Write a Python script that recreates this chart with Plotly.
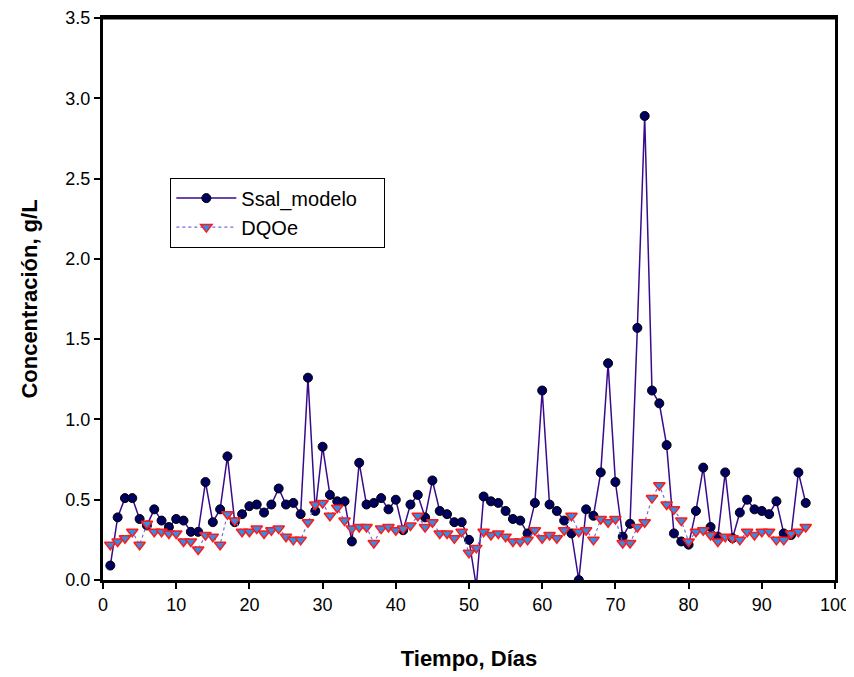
import plotly.graph_objects as go


dias = list(range(1, 97))

ssal_modelo = [
    0.09, 0.39, 0.51, 0.51, 0.38, 0.34, 0.44, 0.37, 0.33, 0.38,
    0.37, 0.30, 0.30, 0.61, 0.36, 0.44, 0.77, 0.36, 0.41, 0.46,
    0.47, 0.42, 0.47, 0.57, 0.47, 0.48, 0.41, 1.26, 0.43, 0.83,
    0.53, 0.49, 0.49, 0.24, 0.73, 0.47, 0.48, 0.51, 0.44, 0.50,
    0.31, 0.47, 0.53, 0.39, 0.62, 0.43, 0.41, 0.36, 0.36, 0.25,
    -0.04, 0.52, 0.49, 0.48, 0.43, 0.38, 0.37, 0.29, 0.48, 1.18,
    0.47, 0.43, 0.37, 0.29, 0.0, 0.44, 0.40, 0.67, 1.35, 0.61,
    0.27, 0.35, 1.57, 2.89, 1.18, 1.10, 0.84, 0.29, 0.24, 0.22,
    0.43, 0.70, 0.33, 0.27, 0.67, 0.26, 0.42, 0.50, 0.44, 0.43,
    0.41, 0.49, 0.29, 0.28, 0.67, 0.48,
]

dqoe = [
    0.22, 0.24, 0.26, 0.30, 0.22, 0.35, 0.30, 0.30, 0.29, 0.29,
    0.24, 0.24, 0.19, 0.28, 0.27, 0.22, 0.41, 0.37, 0.30, 0.30,
    0.32, 0.29, 0.31, 0.32, 0.27, 0.25, 0.25, 0.36, 0.47, 0.48,
    0.40, 0.45, 0.37, 0.32, 0.33, 0.33, 0.23, 0.32, 0.33, 0.31,
    0.32, 0.34, 0.40, 0.33, 0.36, 0.29, 0.29, 0.26, 0.30, 0.17,
    0.20, 0.30, 0.28, 0.29, 0.27, 0.24, 0.24, 0.25, 0.31, 0.26,
    0.28, 0.26, 0.31, 0.40, 0.30, 0.31, 0.25, 0.38, 0.36, 0.38,
    0.23, 0.23, 0.33, 0.36, 0.51, 0.59, 0.47, 0.44, 0.37, 0.24,
    0.30, 0.31, 0.28, 0.24, 0.27, 0.26, 0.25, 0.30, 0.28, 0.30,
    0.30, 0.25, 0.25, 0.29, 0.30, 0.33,
]

x_ticks = [0, 10, 20, 30, 40, 50, 60, 70, 80, 90, 100]
y_ticks = [0.0, 0.5, 1.0, 1.5, 2.0, 2.5, 3.0, 3.5]

FONT = "Liberation Sans, Arial"

fig = go.Figure()

fig.add_trace(go.Scatter(
    x=dias, y=ssal_modelo, name="Ssal_modelo\u00a0\u00a0\u00a0\u00a0",
    mode="lines+markers",
    line=dict(color="#3a0a8c", width=1.5),
    marker=dict(symbol="circle", size=9, color="#000060",
                line=dict(color="black", width=1)),
))

fig.add_trace(go.Scatter(
    x=dias, y=dqoe, name="DQOe",
    mode="lines+markers",
    line=dict(color="#6f6fd8", width=1.2, dash="dot"),
    marker=dict(symbol="triangle-down", size=10, color="#2f8fe8",
                line=dict(color="#ff1a1a", width=1.5)),
))

axis_common = dict(
    showline=True, linecolor="black", linewidth=3, mirror=True,
    ticks="outside", ticklen=6, tickwidth=1.5, tickcolor="black",
    showgrid=False, zeroline=False, automargin=False,
    ticklabeloverflow="allow",
    tickfont=dict(family=FONT, size=18, color="black"),
)

# page body has an 8px margin, so the figure is 8px smaller than the window
fig.update_layout(
    width=846, height=669,
    template="none",
    paper_bgcolor="white",
    plot_bgcolor="white",
    margin=dict(l=95, r=19, t=10, b=97),
    font=dict(family=FONT, color="black"),
    xaxis=dict(
        **axis_common,
        range=[0, 100], tickvals=x_ticks,
        title=dict(text="<b>Tiempo, Días</b>", standoff=38,
                   font=dict(size=22, family=FONT)),
    ),
    yaxis=dict(
        **axis_common,
        range=[0, 3.5], tickvals=y_ticks, tickformat=".1f",
        title=dict(text="<b>Concentración, g/L</b>", standoff=22,
                   font=dict(size=22, family=FONT)),
    ),
    legend=dict(
        x=0.092, y=0.716, xanchor="left", yanchor="top",
        bgcolor="white", bordercolor="black", borderwidth=1,
        font=dict(size=20, family=FONT),
        itemwidth=60,
    ),
)

# top frame line (the mirrored one is lost at the very top of the figure)
fig.add_shape(type="line", xref="paper", yref="paper",
              x0=0, x1=1, y0=1, y1=1,
              line=dict(color="black", width=3), layer="above")

fig.write_html("out.html")
